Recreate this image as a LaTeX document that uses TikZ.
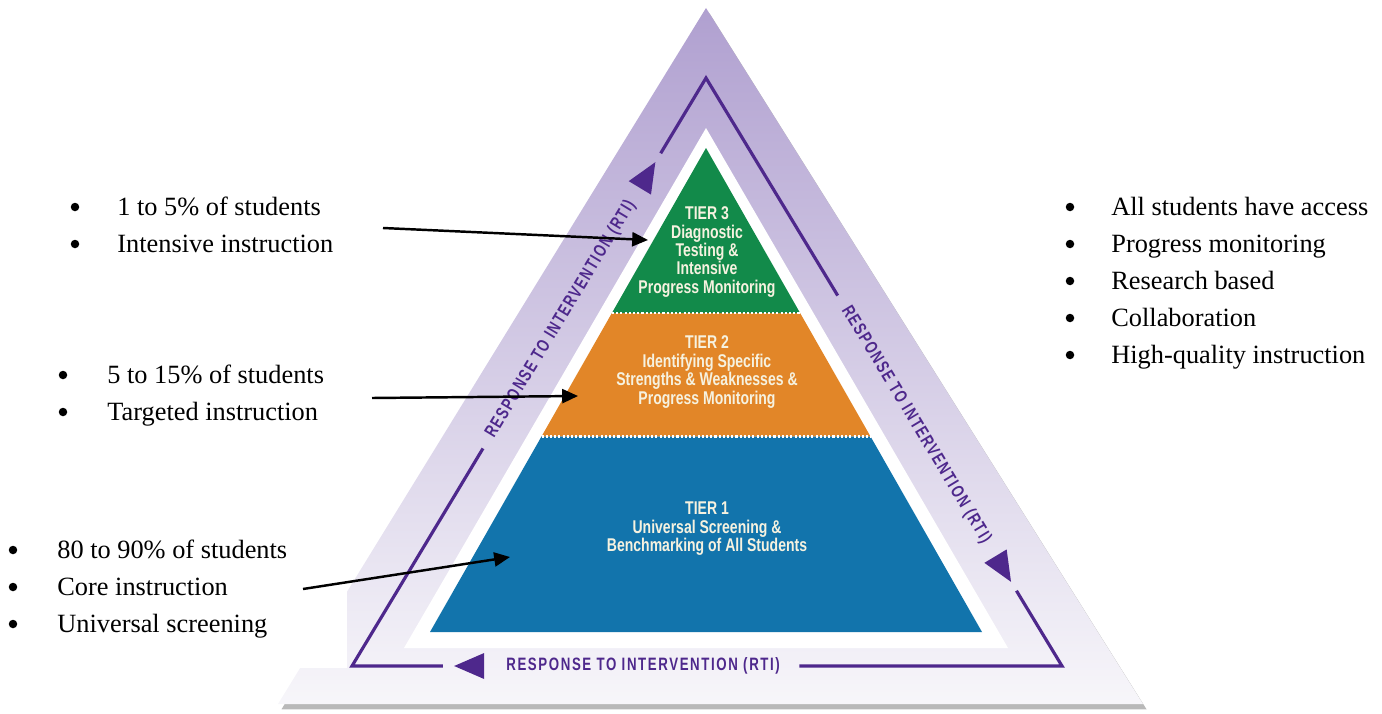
\documentclass[tikz,border=0pt]{standalone}
\usepackage{fontspec}
\setmainfont{Liberation Serif}
\newfontfamily\tierfont[FakeStretch=0.76]{Liberation Sans}
\newfontfamily\rtifont[FakeStretch=0.74,LetterSpace=9]{Liberation Sans}
\usetikzlibrary{arrows.meta,calc,shadows}

\definecolor{bandtop}{RGB}{176,160,208}
\definecolor{bandmid}{RGB}{202,192,224}
\definecolor{bandbot}{RGB}{247,246,250}
\definecolor{rticol}{RGB}{78,40,140}
\definecolor{tiergreen}{RGB}{18,138,74}
\definecolor{tierorange}{RGB}{226,134,40}
\definecolor{tierblue}{RGB}{18,116,172}
\definecolor{tiertext}{RGB}{246,242,224}

\begin{document}
\begin{tikzpicture}[x=0.02cm, y=-0.02cm,
  tiertxt/.style={text=tiertext, font=\tierfont\bfseries\fontsize{10.5}{10.5}\selectfont, align=center, inner sep=0pt},
  rtitxt/.style={text=rticol, font=\rtifont\bfseries\fontsize{10.2}{11}\selectfont, inner sep=0pt},
  rtiline/.style={draw=rticol, line width=1.8pt},
  listtxt/.style={font=\fontsize{15}{17}\selectfont, anchor=base west, inner sep=0pt},
  bulletdot/.style={circle, fill=black, inner sep=0pt, minimum size=0.17cm},
  pointer/.style={-{Triangle[length=9pt,width=8pt]}, line width=1.4pt},
  tierdots/.style={white, line width=1.6pt, dash pattern=on 1.2pt off 1.2pt}]
\useasboundingbox (0,0) rectangle (1382,713);

% outer band
\shade[top color=bandtop, middle color=bandmid, bottom color=bandbot,
  drop shadow={opacity=0.55, shadow xshift=2pt, shadow yshift=-3pt}]
  (706,8) -- (1143,704) -- (278,704) -- cycle;
\fill[white] (706,128) -- (1008,648) -- (404,648) -- cycle;

% tiers
\coordinate (T) at (706,148);
\coordinate (TL) at (430,632);
\coordinate (TR) at (982,632);
\fill[tierblue] ($(T)!0.596!(TL)$) -- (TL) -- (TR) -- ($(T)!0.596!(TR)$) -- cycle;
\fill[tierorange] ($(T)!0.341!(TL)$) -- ($(T)!0.596!(TL)$) -- ($(T)!0.596!(TR)$) -- ($(T)!0.341!(TR)$) -- cycle;
\fill[tiergreen] (T) -- ($(T)!0.341!(TL)$) -- ($(T)!0.341!(TR)$) -- cycle;
\draw[tierdots] ($(T)!0.341!(TL)$) -- ($(T)!0.341!(TR)$);
\draw[tierdots] ($(T)!0.596!(TL)$) -- ($(T)!0.596!(TR)$);

\node[tiertxt] (tier3) at (707,252) {TIER 3\\Diagnostic\\Testing \&\\Intensive\\Progress Monitoring};
\node[tiertxt] (tier2) at (707,372) {TIER 2\\Identifying Specific\\Strengths \& Weaknesses \&\\Progress Monitoring};
\node[tiertxt] (tier1) at (707,529) {TIER 1\\Universal Screening \&\\Benchmarking of All Students};

% RTI loop
\coordinate (A) at (706,78);
\coordinate (BL) at (352,666);
\coordinate (BR) at (1062,666);
\foreach \p/\c/\n in {A/BR/BL, BR/BL/A, BL/A/BR}
  \draw[rtiline] ($(\p)!0.872!(\c)$) -- (\c) -- ($(\c)!0.37!(\n)$);
\foreach \s/\e/\ang/\rot/\nm in {BR/BL/180/0/rtiB, BL/A/58.9/58.9/rtiL, A/BR/-58.9/-58.9/rtiR} {
  \node[rtitxt, rotate=\rot] (\nm) at ($(\s)!0.59!(\e)$) {RESPONSE TO INTERVENTION (RTI)};
  \fill[rticol, shift={($(\s)!0.835!(\e)$)}, rotate=\ang] (15,0) -- (-15,13) -- (-15,-13) -- cycle;
}

% text box covering the lower left
\fill[white] (0,0) rectangle (347,668);

% left lists
\node[bulletdot] (b3a) at (75,207) {};
\node[listtxt] (l3a) at (117,215) {1 to 5\% of students};
\node[bulletdot] (b3b) at (75,244) {};
\node[listtxt] (l3b) at (117,252) {Intensive instruction};
\node[bulletdot] (b2a) at (63,375) {};
\node[listtxt] (l2a) at (107,383) {5 to 15\% of students};
\node[bulletdot] (b2b) at (63,412) {};
\node[listtxt] (l2b) at (107,420) {Targeted instruction};
\node[bulletdot] (b1a) at (13,550) {};
\node[listtxt] (l1a) at (57,558) {80 to 90\% of students};
\node[bulletdot] (b1b) at (13,587) {};
\node[listtxt] (l1b) at (57,595) {Core instruction};
\node[bulletdot] (b1c) at (13,624) {};
\node[listtxt] (l1c) at (57,632) {Universal screening};

% right list
\foreach \t [count=\i] in {All students have access, Progress monitoring, Research based, Collaboration, High-quality instruction} {
  \node[bulletdot] (rb\i) at (1070,170+37*\i) {};
  \node[listtxt] (r\i) at (1111,178+37*\i) {\t};
}

% pointers
\coordinate (p3) at (383,228);
\coordinate (q3) at (648,240);
\coordinate (p2) at (372,398);
\coordinate (q2) at (578,396);
\coordinate (p1) at (303,589);
\coordinate (q1) at (510,557);
\draw[pointer] (p3) -- (q3);
\draw[pointer] (p2) -- (q2);
\draw[pointer] (p1) -- (q1);
\end{tikzpicture}
\end{document}
